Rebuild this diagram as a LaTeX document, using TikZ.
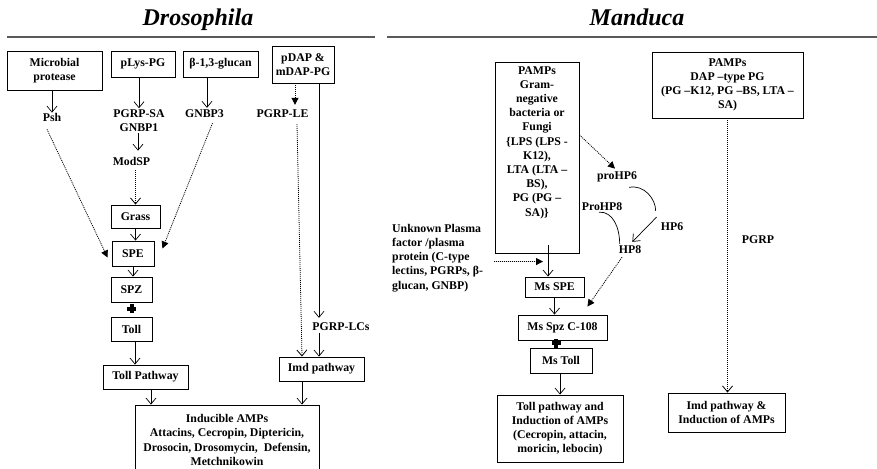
\documentclass[tikz,border=0pt]{standalone}
\usepackage{fontspec}
\setmainfont{Liberation Serif}
\usetikzlibrary{arrows.meta,calc}
\begin{document}
\begin{tikzpicture}[x=1pt,y=-1pt,
  every node/.style={font=\fontsize{11.8}{14.2}\selectfont\bfseries, inner sep=0pt, align=center},
  box/.style={draw, line width=0.9pt},
  arr/.style={line width=0.7pt, -{Straight Barb[length=6pt,width=10pt]}},
  darr/.style={line width=0.8pt, dash pattern=on 1pt off 1pt, -{Triangle[length=7pt,width=7pt]}},
  doarr/.style={line width=0.8pt, dash pattern=on 1pt off 1pt, -{Straight Barb[length=6pt,width=10pt]}},
  link/.style={line width=0.7pt},
  heading/.style={font=\fontsize{24}{28}\selectfont\bfseries\itshape, anchor=base},
  rule/.style={line width=1.2pt, black!65}
]
\useasboundingbox (0,0) rectangle (877,468);

% ---------- headings ----------
\node[heading] (tD) at (198,26) {Drosophila};
\node[heading] (tM) at (637,26) {Manduca};
\draw[rule] (7,37) -- (375,37);
\draw[rule] (387,37) -- (877,37);

% ---------- Drosophila ----------
\node[box, minimum width=95, minimum height=39] (mp) at (54.5,70.5) {Microbial\\protease};
\node[box, minimum width=64, minimum height=26] (plys) at (143,64) {pLys-PG};
\node[box, minimum width=75, minimum height=26] (gluc) at (220.5,64) {β-1,3-glucan};
\node[box, minimum width=62, minimum height=37] (pdap) at (303,64.5) {pDAP \&\\mDAP-PG};

\node (psh) at (52,117) {Psh};
\node (pgrpsa) at (139,120.5) {PGRP-SA\\GNBP1};
\node (gnbp3) at (204.5,114) {GNBP3};
\node (pgrple) at (282.5,114) {PGRP-LE};
\node (modsp) at (131.5,161) {ModSP};

\node[box, minimum width=49, minimum height=23] (grass) at (135.5,216.5) {Grass};
\node[box, minimum width=42, minimum height=25] (spe) at (133,253.5) {SPE};
\node[box, minimum width=41, minimum height=25] (spz) at (131.5,289.5) {SPZ};
\node[box, minimum width=41, minimum height=24] (toll) at (131.5,329) {Toll};
\node[box, minimum width=85, minimum height=24] (tollpw) at (145.5,377) {Toll Pathway};
\node (pgrplcs) at (341,327) {PGRP-LCs};
\node[box, minimum width=85, minimum height=24] (imd) at (321.5,369) {Imd pathway};
\node[box, minimum width=184, minimum height=70] (amps) at (227,440)
  {Inducible AMPs\\Attacins, Cecropin, Diptericin,\\Drosocin, Drosomycin,\ \ Defensin,\\Metchnikowin};

\draw[arr] (mp.south -| psh.north) -- (psh.north);
\draw[arr] (plys.south -| pgrpsa.north) -- ($(pgrpsa.north)+(0,-1)$);
\draw[arr] ($(gluc.south)+(-13.5,0)$) -- ($(gnbp3.north)+(2.5,-2)$);
\draw[arr] ($(pgrpsa.south)+(-1,1)$) -- ($(modsp.north)+(6.5,-6)$);
\draw[doarr] ($(modsp.south -| grass.north)+(0,5)$) -- (grass.north);
\draw[arr] (grass.south) -- (grass.south |- spe.north);
\draw[arr] (spe.south) -- (spe.south |- spz.north);
\draw[arr] ($(toll.south)+(3.5,0)$) -- ($(tollpw.north)+(-10.5,0)$);
\draw[arr] ($(tollpw.south)+(5.5,0)$) -- ($(amps.north)+(-76,0)$);
\draw[arr] ($(imd.south)+(-19.5,0)$) -- ($(amps.north)+(75,0)$);

\draw[darr] ($(psh.south)+(-5,8)$) -- ($(spe.west)+(-4,4)$);
\draw[darr] ($(gnbp3.south)+(8,5)$) -- ($(spe.east)+(8,-5)$);
\draw[darr] ($(pdap.south)+(-8,0)$) -- ($(pgrple.north)+(12.5,-5)$);
\draw[doarr] ($(pgrple.south)+(14.5,6)$) -- ($(imd.north)+(-19.5,0)$);
\draw[arr] ($(pdap.south)+(16,0)$) -- ($(pgrplcs.north)+(-22,-5)$);
\draw[arr] ($(pgrplcs.south)+(-22,2)$) -- ($(imd.north)+(-2.5,0)$);

% receptor binding mark between SPZ and Toll
\coordinate (bindD) at (131.5,308.5);
\fill ($(bindD)+(-4.5,-2)$) rectangle ($(bindD)+(4.5,2)$);
\fill ($(bindD)+(-2,-4.5)$) rectangle ($(bindD)+(2,4.5)$);

% ---------- Manduca ----------
\node[box, minimum width=84, minimum height=191] (pg) at (537,157.5) {};
\node (pgtext) at (537,142.5) {PAMPs\\Gram-\\negative\\bacteria or\\Fungi\\\{LPS (LPS -\\K12),\\LTA (LTA –\\BS),\\PG (PG –\\SA)\}};
\node[box, minimum width=151, minimum height=66] (pd) at (727.5,85)
  {PAMPs\\DAP –type PG\\(PG –K12, PG –BS, LTA –\\SA)};

\node (prohp6) at (617,177) {proHP6};
\node (hp6) at (672,227) {HP6};
\node (prohp8) at (602,207) {ProHP8};
\node (hp8) at (630,250) {HP8};
\node (pgrp) at (758,240) {PGRP};
\node[anchor=north west, align=left] (unk) at (392,224)
  {Unknown Plasma\\factor /plasma\\protein (C-type\\lectins, PGRPs, β-\\glucan, GNBP)};

\node[box, minimum width=59, minimum height=20] (msspe) at (554.5,287) {Ms SPE};
\node[box, minimum width=89, minimum height=25] (msspz) at (562.5,327.5) {Ms Spz C-108};
\node[box, minimum width=62, minimum height=25] (mstoll) at (561,360.5) {Ms Toll};
\node[box, minimum width=126, minimum height=67] (tollind) at (560,428.5)
  {Toll pathway and\\Induction of AMPs\\(Cecropin, attacin,\\moricin, lebocin)};
\node[box, minimum width=117, minimum height=39] (imdind) at (726.5,412.5)
  {Imd pathway \&\\Induction of AMPs};

\draw[darr] (pg.28) -- ($(prohp6.north)+(-2,-3)$);
\draw[link] ($(prohp6.south east)+(-8,5)$) .. controls +(15,-3) and +(0,-12) .. ($(hp6.north west)+(-5,-12)$);
\draw[arr] ($(hp6.west)+(-4,-10)$) -- ($(hp8.north east)+(-9,-4)$);
\draw[link] ($(prohp8.south)+(-3,1)$) .. controls +(14,-1) and +(0,-16) .. ($(hp8.north west)+(1,-2)$);
\draw[darr] ($(hp8.south)+(-8,3)$) -- ($(msspz.north east)+(-20,-8)$);
\draw[darr] ($(unk.east)+(11,3.5)$) -- ($(msspe.north)+(-11.5,-15)$);
\draw[arr] ($(pg.south)+(11,-8)$) -- ($(msspe.north)+(-6.5,0)$);
\draw[arr] (msspe.south) -- (msspe.south |- msspz.north);
\draw[arr] (mstoll.south -| tollind.north) -- (tollind.north);
\draw[doarr] (pd.south) -- (pd.south |- imdind.north);

% receptor binding mark between Ms Spz and Ms Toll
\coordinate (bindM) at (556,343);
\fill ($(bindM)+(-4.5,-2)$) rectangle ($(bindM)+(4.5,2)$);
\fill ($(bindM)+(-2,-4.5)$) rectangle ($(bindM)+(2,4.5)$);
\end{tikzpicture}
\end{document}
